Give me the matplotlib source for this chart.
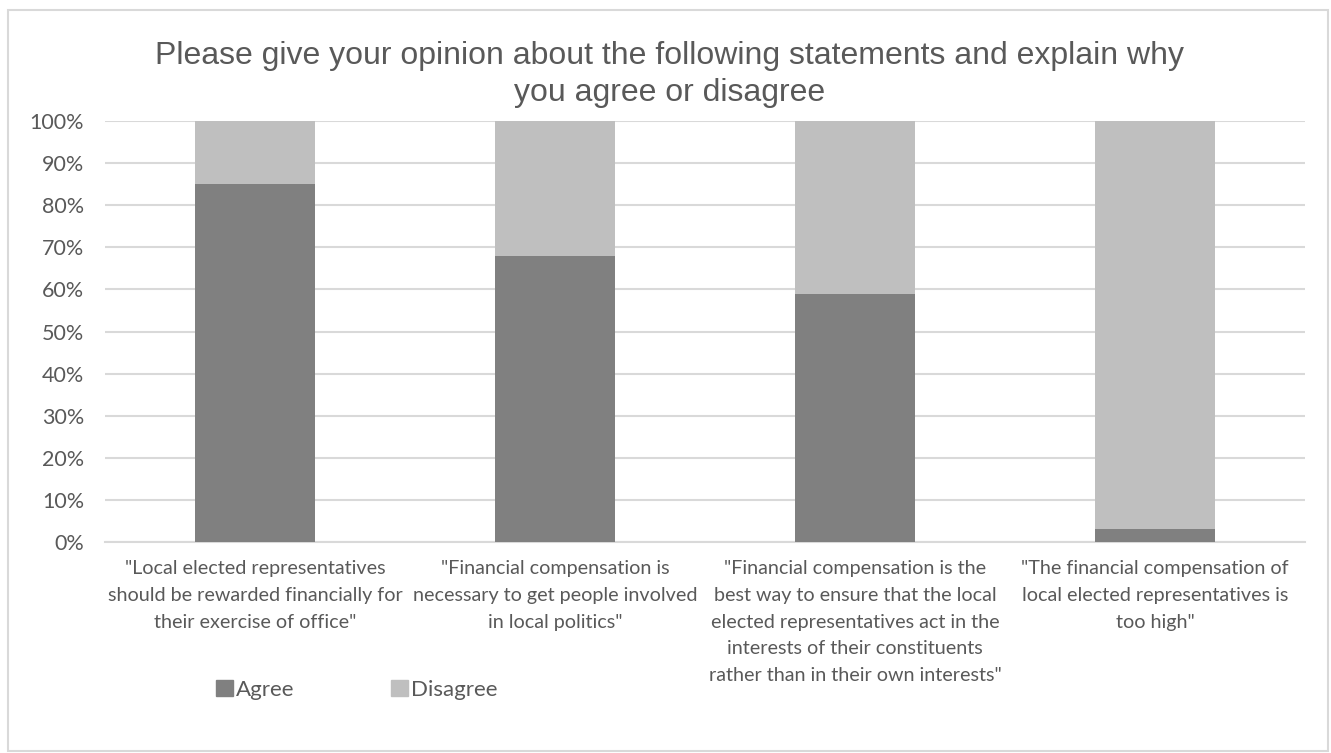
import numpy as np
import matplotlib
matplotlib.use('Agg')
import matplotlib.pyplot as plt
from matplotlib.patches import Rectangle, Patch
from matplotlib.ticker import PercentFormatter

# data
categories = [
    '"Local elected representatives\nshould be rewarded financially for\ntheir exercise of office"',
    '"Financial compensation is\nnecessary to get people involved\nin local politics"',
    '"Financial compensation is the\nbest way to ensure that the local\nelected representatives act in the\ninterests of their constituents\nrather than in their own interests"',
    '"The financial compensation of\nlocal elected representatives is\ntoo high"',
]
agree = [85, 68, 59, 3]
disagree = [15, 32, 41, 97]

text_col = '#595959'
grid_col = '#d9d9d9'
agree_col = '#808080'
disagree_col = '#bfbfbf'

plt.rcParams['font.family'] = ['Lato', 'DejaVu Sans']

fig = plt.figure(figsize=(13.31, 7.53), dpi=100)
ax = fig.add_axes([105 / 1331, 1 - 542 / 753, 1200 / 1331, 421 / 753])

x = np.arange(len(categories))
ax.bar(x, agree, width=0.4, color=agree_col, label='Agree', zorder=3)
ax.bar(x, disagree, width=0.4, bottom=agree, color=disagree_col, label='Disagree', zorder=3)

ax.set_xlim(-0.5, len(categories) - 0.5)
ax.set_ylim(0, 100)
ax.set_yticks(np.arange(0, 101, 10))
ax.yaxis.set_major_formatter(PercentFormatter(decimals=0))
ax.set_xticks(x)
ax.set_xticklabels(categories, fontsize=14.2, color=text_col, linespacing=1.7)
ax.tick_params(axis='y', length=0, colors=text_col, labelsize=15.5, pad=15)
ax.tick_params(axis='x', length=0, colors=text_col, pad=13)
ax.yaxis.grid(True, color=grid_col, linewidth=1.5, zorder=0)
for s in ['top', 'right', 'left']:
    ax.spines[s].set_visible(False)
ax.spines['bottom'].set_color(grid_col)
ax.spines['bottom'].set_linewidth(1.5)

fig.suptitle('Please give your opinion about the following statements and explain why\nyou agree or disagree',
             x=0.503, y=0.946, fontsize=23, color=text_col, family='Liberation Sans',
             linespacing=1.32)

handles = [Patch(color=agree_col), Patch(color=disagree_col)]
fig.legend(handles, ['Agree', 'Disagree'], loc='center left', bbox_to_anchor=(196 / 1331, 1 - 690 / 753),
           ncol=2, frameon=False, fontsize=16, labelcolor=text_col, handlelength=0.75, handleheight=0.75,
           handletextpad=0.15, columnspacing=4.35)

fig.patches.append(Rectangle((8 / 1331, 2 / 753), 1320 / 1331, 741 / 753, transform=fig.transFigure,
                             fill=False, edgecolor=grid_col, linewidth=1.5))

fig.savefig('out.png', dpi=100)
